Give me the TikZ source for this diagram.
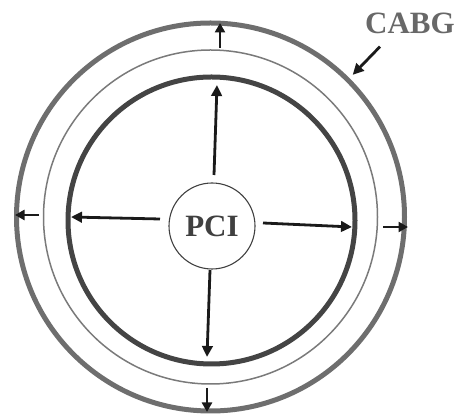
\documentclass[tikz,border=0pt]{standalone}
\usepackage{fontspec}
\setmainfont{Liberation Serif}
\usetikzlibrary{arrows.meta}

\definecolor{outergray}{HTML}{6E6E6E}
\definecolor{midgray}{HTML}{7A7A7A}
\definecolor{innergray}{HTML}{444444}
\definecolor{pcigray}{HTML}{404040}
\definecolor{cabggray}{HTML}{686868}
\definecolor{arrowblack}{HTML}{1A1A1A}

\begin{document}
\begin{tikzpicture}[
    x=1pt, y=1pt,
    ring/.style={circle, draw, inner sep=0pt, outer sep=0pt},
    arrow/.style={-{Triangle[length=11pt, width=10.5pt]}, line width=2.8pt, draw=arrowblack},
    shortarrow/.style={-{Triangle[length=9.5pt, width=10pt]}, line width=2.8pt, draw=arrowblack},
    bigtext/.style={font=\fontsize{31}{36}\selectfont\bfseries}
]
\useasboundingbox (0,0) rectangle (458,414);

% ============ RINGS ============
\node[ring, line width=5pt, draw=outergray, minimum size=388pt] (outer) at (210.5,197) {};
\node[ring, line width=1.5pt, draw=midgray, minimum size=334pt] (middle) at (210.5,197) {};
\node[ring, line width=5pt, draw=innergray, minimum size=287pt] (inner) at (211.5,193.5) {};

% PCI in the centre
\node[ring, line width=1.1pt, draw=pcigray, minimum size=86pt, bigtext, text=pcigray] (pci) at (212,188) {PCI};

% CABG label
\node[bigtext, text=cabggray, inner sep=0pt] (cabg) at (410,391) {CABG};

% ============ ARROWS: PCI -> inner ring ============
\draw[arrow] ([shift={(2,8)}]pci.north) -- ([shift={(5.5,-8)}]inner.north);
\draw[arrow] ([shift={(-9,7)}]pci.west) -- ([shift={(3,3.5)}]inner.west);
\draw[arrow] ([shift={(8,3)}]pci.east) -- ([shift={(-3,-6.5)}]inner.east);
\draw[arrow] ([shift={(-2,-1)}]pci.south) -- ([shift={(-4.5,7)}]inner.south);

% ============ ARROWS: middle ring -> outer ring ============
\draw[shortarrow] ([shift={(9.5,2)}]middle.north) -- ([shift={(9.5,0)}]outer.north);
\draw[shortarrow] ([shift={(-4.5,2)}]middle.west) -- ([shift={(-1.5,2)}]outer.west);
\draw[shortarrow] ([shift={(5.5,-10)}]middle.east) -- ([shift={(3.5,-10)}]outer.east);
\draw[shortarrow] ([shift={(-3.5,-4)}]middle.south) -- ([shift={(-3.5,-1)}]outer.south);

% CABG pointer
\draw[arrow] ([shift={(-30,-13)}]cabg.south) -- ([shift={(5,5)}]outer.45);

\end{tikzpicture}
\end{document}
